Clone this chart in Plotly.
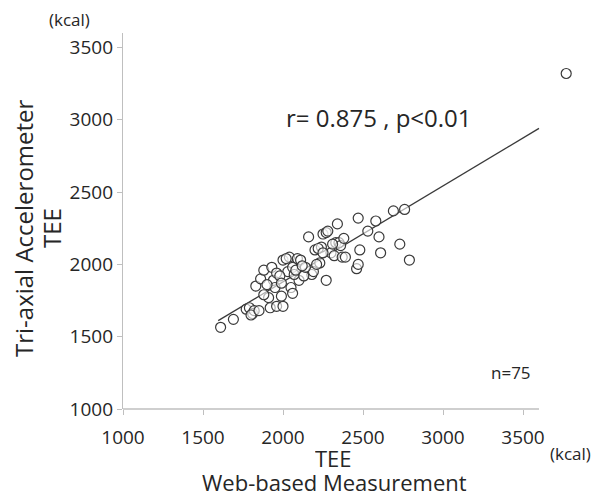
import numpy as np
import plotly.graph_objects as go

# Web-based measurement TEE (kcal)
web_tee = [1610, 1690, 1770, 1790, 1810, 1820, 1800, 1830, 1860, 1880,
           1930, 1910, 1920, 1960, 2000, 1940, 1960, 1950, 1990, 2000,
           2040, 2030, 2060, 2050, 2060, 2090, 2110, 2100, 2160, 2180,
           2190, 2200, 2230, 2240, 2250, 2270, 2280, 2270, 2300, 2320,
           2330, 2340, 2350, 2360, 2370, 2390, 2380, 2460, 2470, 2480,
           2470, 2530, 2580, 2600, 2610, 2690, 2730, 2760, 2790, 3770,
           1880, 1850, 1900, 1980, 2020, 2070, 2080, 2130, 2140, 2210,
           2220, 2250, 2310, 1990, 2120]
# Tri-axial accelerometer TEE (kcal)
acc_tee = [1565, 1620, 1690, 1700, 1660, 1680, 1650, 1850, 1900, 1960,
           1980, 1770, 1700, 1710, 1710, 1890, 1940, 1840, 1780, 2030,
           2050, 1950, 1980, 1840, 1800, 2040, 2030, 1890, 2190, 1930,
           1950, 2100, 2010, 2120, 2210, 2220, 2230, 1890, 2080, 2060,
           2150, 2280, 2150, 2130, 2050, 2050, 2180, 1970, 2000, 2100,
           2320, 2230, 2300, 2190, 2080, 2370, 2140, 2380, 2030, 3320,
           1790, 1680, 1860, 1920, 2040, 1930, 1960, 1920, 1980, 2000,
           2110, 2080, 2140, 1870, 1990]

x_ticks = [1000, 1500, 2000, 2500, 3000, 3500]
y_ticks = [1000, 1500, 2000, 2500, 3000, 3500]
axis_min, axis_max = 1000, 3600
stat_text = "r= 0.875 , p<0.01"
n_text = "n=75"

slope, intercept = np.polyfit(web_tee, acc_tee, 1)
fit_x = np.array([1595, axis_max])
fit_y = slope * fit_x + intercept

FONT = "Open Sans, Lato, sans-serif"
AX = "#bfbfbf"
TXT = "#262626"

fig = go.Figure()
fig.add_trace(go.Scatter(x=fit_x, y=fit_y, mode="lines",
                         line=dict(color="#3a3a3a", width=1.3),
                         hoverinfo="skip", showlegend=False))
fig.add_trace(go.Scatter(x=web_tee, y=acc_tee, mode="markers",
                         cliponaxis=False,
                         marker=dict(size=10, color="rgba(255,255,255,0.6)",
                                     line=dict(color="#3a3a3a", width=1.2)),
                         showlegend=False))

axis_common = dict(showgrid=False, zeroline=False,
                   ticks="outside", ticklen=5,
                   tickcolor=AX, tickwidth=1.3,
                   tickfont=dict(family=FONT, size=19, color=TXT))
# x range extends past the drawn axis line so the outlier stays visible
fig.update_xaxes(range=[axis_min, 3800], tickvals=x_ticks, showline=False,
                 ticklabelstandoff=6, **axis_common)
fig.update_yaxes(range=[axis_min, axis_max], tickvals=y_ticks, showline=True,
                 linecolor=AX, linewidth=1.3, **axis_common)
fig.add_shape(type="line", xref="x", yref="paper", x0=axis_min - 8,
              x1=axis_max, y0=0, y1=0, line=dict(color=AX, width=1.3))

# page has an 8px body margin; plot area in page pixels: x 123..571, y 33..409
def px(x):
    return (x - 123) / 448

def py(y):
    return (409 - y) / 376

annots = [
    dict(x=px(24), y=py(228), text="Tri-axial Accelerometer",
         textangle=-90, font=dict(size=24, family=FONT, color=TXT)),
    dict(x=px(52), y=py(228), text="TEE",
         textangle=-90, font=dict(size=24, family=FONT, color=TXT)),
    dict(x=px(333), y=py(458), text="TEE", height=18,
         font=dict(size=22, family=FONT, color=TXT)),
    dict(x=px(334), y=py(482), text="Web-based Measurement", height=20,
         font=dict(size=22, family=FONT, color=TXT)),
    dict(x=px(570), y=py(453), text="(kcal)",
         font=dict(size=17, family=FONT, color=TXT)),
    dict(x=px(69), y=py(19), text="(kcal)",
         font=dict(size=17, family=FONT, color=TXT)),
    dict(x=px(379), y=py(117), text=stat_text,
         font=dict(size=24, family=FONT, color=TXT)),
    dict(x=px(511), y=py(372), text=n_text,
         font=dict(size=17, family=FONT, color=TXT)),
]
for a in annots:
    a.update(xref="paper", yref="paper", showarrow=False,
             xanchor="center", yanchor="middle")
fig.update_layout(annotations=annots)

fig.update_layout(width=595, height=489,
                  margin=dict(l=115, r=32, t=25, b=88),
                  paper_bgcolor="white", plot_bgcolor="white",
                  font=dict(family=FONT, color=TXT))

fig.write_html("out.html")
